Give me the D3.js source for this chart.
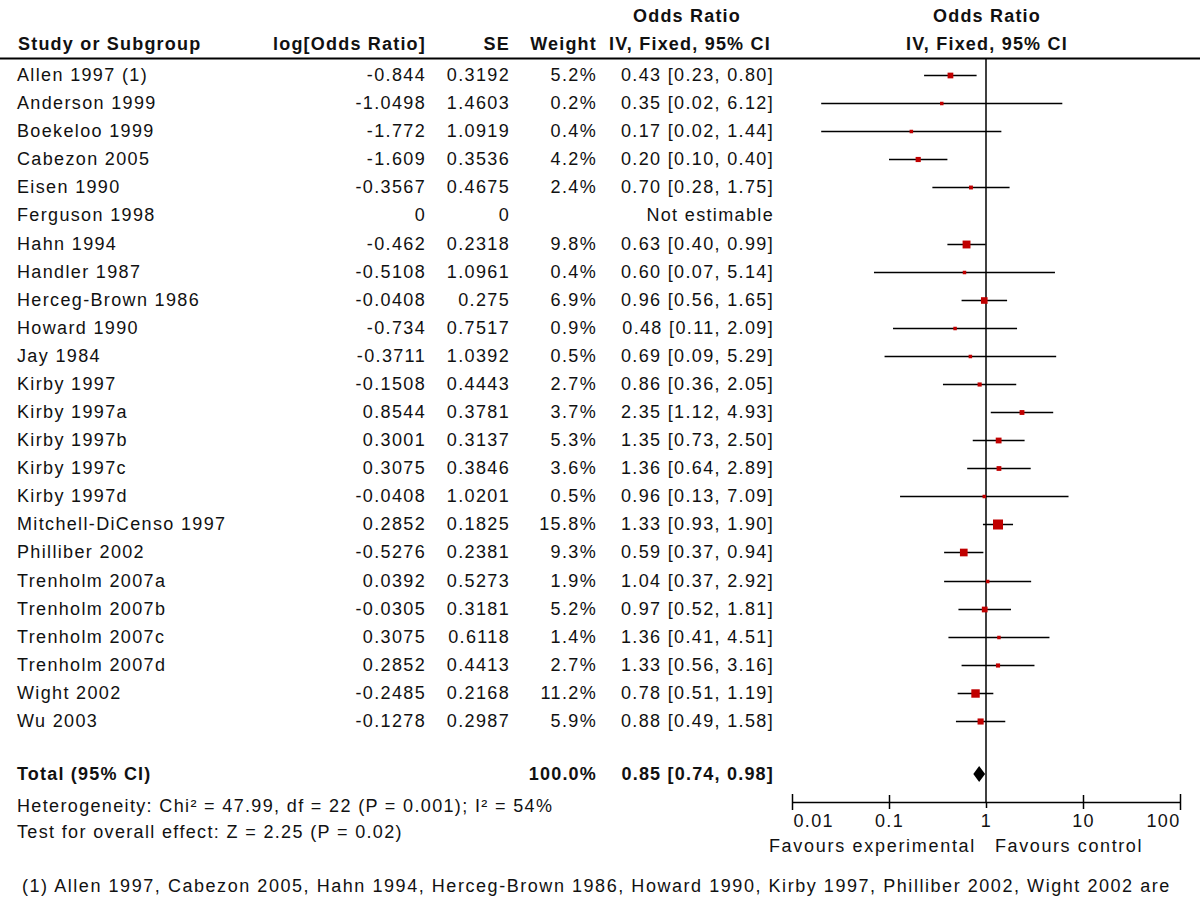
<!DOCTYPE html>
<html><head><meta charset="utf-8">
<script src="https://cdn.jsdelivr.net/npm/d3@7"></script>
<style>
html,body{margin:0;padding:0;background:#fff;}
svg text{font-family:"Liberation Sans",Arial,sans-serif;font-size:18px;fill:#111;letter-spacing:1.35px;}
svg text.b{font-weight:bold;letter-spacing:1.2px;}
</style></head>
<body><div id="chart"></div>
<script>
const studies = ["Allen 1997 (1)","Anderson 1999","Boekeloo 1999","Cabezon 2005","Eisen 1990","Ferguson 1998","Hahn 1994","Handler 1987","Herceg-Brown 1986","Howard 1990","Jay 1984","Kirby 1997","Kirby 1997a","Kirby 1997b","Kirby 1997c","Kirby 1997d","Mitchell-DiCenso 1997","Philliber 2002","Trenholm 2007a","Trenholm 2007b","Trenholm 2007c","Trenholm 2007d","Wight 2002","Wu 2003"];
const logOR = ["-0.844","-1.0498","-1.772","-1.609","-0.3567","0","-0.462","-0.5108","-0.0408","-0.734","-0.3711","-0.1508","0.8544","0.3001","0.3075","-0.0408","0.2852","-0.5276","0.0392","-0.0305","0.3075","0.2852","-0.2485","-0.1278"];
const seVals = ["0.3192","1.4603","1.0919","0.3536","0.4675","0","0.2318","1.0961","0.275","0.7517","1.0392","0.4443","0.3781","0.3137","0.3846","1.0201","0.1825","0.2381","0.5273","0.3181","0.6118","0.4413","0.2168","0.2987"];
const weights = [5.2,0.2,0.4,4.2,2.4,null,9.8,0.4,6.9,0.9,0.5,2.7,3.7,5.3,3.6,0.5,15.8,9.3,1.9,5.2,1.4,2.7,11.2,5.9];
const orVals = [0.43,0.35,0.17,0.20,0.70,null,0.63,0.60,0.96,0.48,0.69,0.86,2.35,1.35,1.36,0.96,1.33,0.59,1.04,0.97,1.36,1.33,0.78,0.88];
const ciLow = [0.23,0.02,0.02,0.10,0.28,null,0.40,0.07,0.56,0.11,0.09,0.36,1.12,0.73,0.64,0.13,0.93,0.37,0.37,0.52,0.41,0.56,0.51,0.49];
const ciHigh = [0.80,6.12,1.44,0.40,1.75,null,0.99,5.14,1.65,2.09,5.29,2.05,4.93,2.50,2.89,7.09,1.90,0.94,2.92,1.81,4.51,3.16,1.19,1.58];
const total = {or:0.85, lo:0.74, hi:0.98, weight:"100.0%"};
const axisTicks = [0.01,0.1,1,10,100];
const heterogeneity = "Heterogeneity: Chi\u00b2 = 47.99, df = 22 (P = 0.001); I\u00b2 = 54%";
const overall = "Test for overall effect: Z = 2.25 (P = 0.02)";
const footnote = "(1) Allen 1997, Cabezon 2005, Hahn 1994, Herceg-Brown 1986, Howard 1990, Kirby 1997, Philliber 2002, Wight 2002 are";

const W=1200,H=908;
const svg=d3.select("#chart").append("svg").attr("width",W).attr("height",H);
const x=d3.scaleLog().domain([0.01,100]).range([792,1180]);
const y=d3.scaleLinear().domain([0,studies.length-1]).range([75,721]);
const f2=d3.format(".2f");
const red="#c00000";
const dy=6;

// headers
const hb=(t,xx,yy,anchor)=>svg.append("text").attr("class","b").attr("x",xx).attr("y",yy).attr("text-anchor",anchor).text(t);
hb("Study or Subgroup",18,50,"start");
hb("log[Odds Ratio]",426,50,"end");
hb("SE",510,50,"end");
hb("Weight",597,50,"end");
hb("Odds Ratio",687,22,"middle");
hb("IV, Fixed, 95% CI",690,50,"middle");
hb("Odds Ratio",987,22,"middle");
hb("IV, Fixed, 95% CI",987,50,"middle");
svg.append("line").attr("x1",0).attr("x2",W).attr("y1",58.5).attr("y2",58.5).attr("stroke","#000").attr("stroke-width",2);

// rows
const rows=svg.append("g");
studies.forEach((s,i)=>{
  const yy=y(i)+dy;
  rows.append("text").attr("x",17).attr("y",yy).text(s);
  rows.append("text").attr("x",426).attr("y",yy).attr("text-anchor","end").text(logOR[i]);
  rows.append("text").attr("x",510).attr("y",yy).attr("text-anchor","end").text(seVals[i]);
  if(weights[i]!==null) rows.append("text").attr("x",597).attr("y",yy).attr("text-anchor","end").text(d3.format(".1f")(weights[i])+"%");
  if(orVals[i]!==null){
    rows.append("text").attr("x",774).attr("y",yy).attr("text-anchor","end").text(f2(orVals[i])+" ["+f2(ciLow[i])+", "+f2(ciHigh[i])+"]");
  } else {
    rows.append("text").attr("x",774).attr("y",yy).attr("text-anchor","end").text("Not estimable");
  }
});

// vertical line of no effect
svg.append("line").attr("x1",x(1)).attr("x2",x(1)).attr("y1",59).attr("y2",802).attr("stroke","#000").attr("stroke-width",1.5);

// CI lines and boxes
const plot=svg.append("g");
studies.forEach((s,i)=>{
  if(orVals[i]===null) return;
  const yy=Math.round(y(i))+0.5;
  plot.append("line").attr("x1",x(Math.max(ciLow[i],0.01))).attr("x2",x(Math.min(ciHigh[i],100))).attr("y1",yy).attr("y2",yy).attr("stroke","#000").attr("stroke-width",1.5);
  const side=Math.max(3.5,10*Math.sqrt(weights[i]/15.8));
  plot.append("rect").attr("x",x(orVals[i])-side/2).attr("y",yy-side/2).attr("width",side).attr("height",side).attr("fill",red);
});

// total row
const ty=774;
svg.append("text").attr("class","b").attr("x",17).attr("y",ty+dy).text("Total (95% CI)");
svg.append("text").attr("class","b").attr("x",597).attr("y",ty+dy).attr("text-anchor","end").text(total.weight);
svg.append("text").attr("class","b").attr("x",774).attr("y",ty+dy).attr("text-anchor","end").text(f2(total.or)+" ["+f2(total.lo)+", "+f2(total.hi)+"]");
svg.append("path").attr("d",`M${x(total.lo)},${ty} L${x(total.or)},${ty-8} L${x(total.hi)},${ty} L${x(total.or)},${ty+8} Z`).attr("fill","#000");

svg.append("text").attr("x",17).attr("y",806+dy).text(heterogeneity);
svg.append("text").attr("x",17).attr("y",832+dy).text(overall);

// axis
const ax=svg.append("g").attr("transform","translate(0,802)")
  .call(d3.axisBottom(x).tickValues(axisTicks).tickFormat(d=>String(d)).tickSizeInner(8).tickSizeOuter(0));
ax.select(".domain").attr("stroke","#000").attr("stroke-width",1.5);
ax.selectAll(".tick line").attr("stroke","#000").attr("stroke-width",1.5).attr("y1",-8).attr("y2",8);
ax.selectAll(".tick line").filter(d=>d===1).attr("y1",0).attr("y2",6);
ax.selectAll(".tick line").filter(d=>d===0.1||d===10).attr("y1",-7).attr("y2",7);
ax.selectAll(".tick text").attr("y",12).attr("dy","0.71em").style("font-size","18px").style("font-family","'Liberation Sans',Arial,sans-serif").attr("fill","#111");
ax.selectAll(".tick text").filter(d=>d===0.01).attr("text-anchor","start").attr("x",1);
ax.selectAll(".tick text").filter(d=>d===100).attr("text-anchor","end");

svg.append("text").attr("x",976).attr("y",846+dy).attr("text-anchor","end").style("letter-spacing","1.7px").text("Favours experimental");
svg.append("text").attr("x",995).attr("y",846+dy).style("letter-spacing","1.6px").text("Favours control");

svg.append("text").attr("x",22).attr("y",886+dy).style("letter-spacing","1.55px").text(footnote);
</script></body></html>
